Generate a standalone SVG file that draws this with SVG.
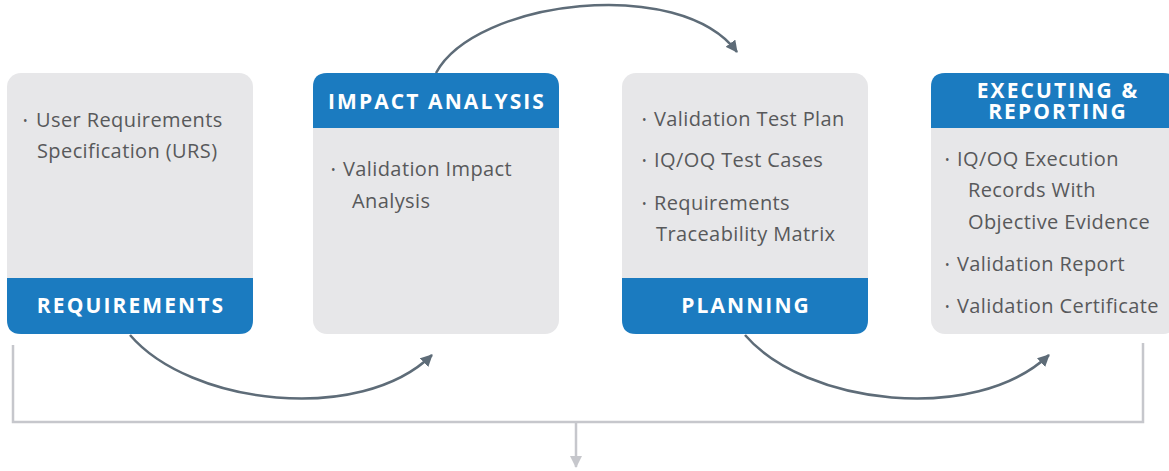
<svg xmlns="http://www.w3.org/2000/svg" width="1169" height="471" viewBox="0 0 1169 471">
<style>
.card{fill:#E7E7E9}
.band{fill:#1B7BC0}
.hd{font-family:"Open Sans",Lato,sans-serif;font-weight:700;font-size:21px;fill:#FFFFFF;letter-spacing:2.1px;text-anchor:middle}
.tx{font-family:"Open Sans",Lato,sans-serif;font-size:20px;fill:#58595B;letter-spacing:0.4px}
.bl{font-family:"Open Sans",Lato,sans-serif;font-size:12px;fill:#58595B}
.flow{fill:none;stroke:#5E6C78;stroke-width:2.5}
.brk{fill:none;stroke:#C6C7CC;stroke-width:2.5}
</style>
<defs>
<marker id="ah" viewBox="0 0 12 12" refX="11" refY="6" markerWidth="12" markerHeight="12" markerUnits="userSpaceOnUse" orient="auto">
<path d="M0,0 L12,6 L0,12 Z" fill="#5E6C78"/>
</marker>
<marker id="ahg" viewBox="0 0 12 12" refX="11" refY="6" markerWidth="12" markerHeight="12" markerUnits="userSpaceOnUse" orient="auto">
<path d="M0,0 L12,6 L0,12 Z" fill="#C6C7CC"/>
</marker>
</defs>
<g id="connectors">
<path class="brk" d="M13,345 V422 H1143 V343"/>
<path class="brk" d="M576,422 V467" marker-end="url(#ahg)"/>
<path class="flow" d="M130,335 C190,405 360,425 432,355" marker-end="url(#ah)"/>
<path class="flow" d="M436,73 C475,0 680,-25 737,52" marker-end="url(#ah)"/>
<path class="flow" d="M745,335 C805,405 975,425 1049,355" marker-end="url(#ah)"/>
</g>
<g id="requirements">
<rect class="card" x="7" y="73" width="246" height="261" rx="14"/>
<path class="band" d="M7,278 H253 V320 Q253,334 239,334 H21 Q7,334 7,320 Z"/>
<text class="hd" x="131" y="313">REQUIREMENTS</text>
<text class="bl" x="23" y="125">•</text>
<text class="tx" x="36" y="127">User Requirements</text>
<text class="tx" x="37" y="158">Specification (URS)</text>
</g>
<g id="impact-analysis">
<rect class="card" x="313" y="73" width="246" height="261" rx="14"/>
<path class="band" d="M313,128 V87 Q313,73 327,73 H545 Q559,73 559,87 V128 Z"/>
<text class="hd" x="437" y="109">IMPACT ANALYSIS</text>
<text class="bl" x="331" y="174">•</text>
<text class="tx" x="343" y="176">Validation Impact</text>
<text class="tx" x="352" y="208">Analysis</text>
</g>
<g id="planning">
<rect class="card" x="622" y="73" width="246" height="261" rx="14"/>
<path class="band" d="M622,278 H868 V320 Q868,334 854,334 H636 Q622,334 622,320 Z"/>
<text class="hd" x="746" y="313">PLANNING</text>
<text class="bl" x="642" y="124">•</text>
<text class="tx" x="654" y="126">Validation Test Plan</text>
<text class="bl" x="642" y="165">•</text>
<text class="tx" x="654" y="167">IQ/OQ Test Cases</text>
<text class="bl" x="642" y="208">•</text>
<text class="tx" x="654" y="210">Requirements</text>
<text class="tx" x="656" y="241">Traceability Matrix</text>
</g>
<g id="executing-reporting">
<rect class="card" x="931" y="73" width="246" height="261" rx="14"/>
<path class="band" d="M931,128 V87 Q931,73 945,73 H1163 Q1177,73 1177,87 V128 Z"/>
<text class="hd"><tspan x="1058" y="98">EXECUTING &amp;</tspan><tspan x="1058" y="119">REPORTING</tspan></text>
<text class="bl" x="945" y="164">•</text>
<text class="tx" x="957" y="166">IQ/OQ Execution</text>
<text class="tx" x="968" y="197">Records With</text>
<text class="tx" x="968" y="229">Objective Evidence</text>
<text class="bl" x="945" y="269">•</text>
<text class="tx" x="957" y="271">Validation Report</text>
<text class="bl" x="945" y="311">•</text>
<text class="tx" x="957" y="313">Validation Certificate</text>
</g>
</svg>
